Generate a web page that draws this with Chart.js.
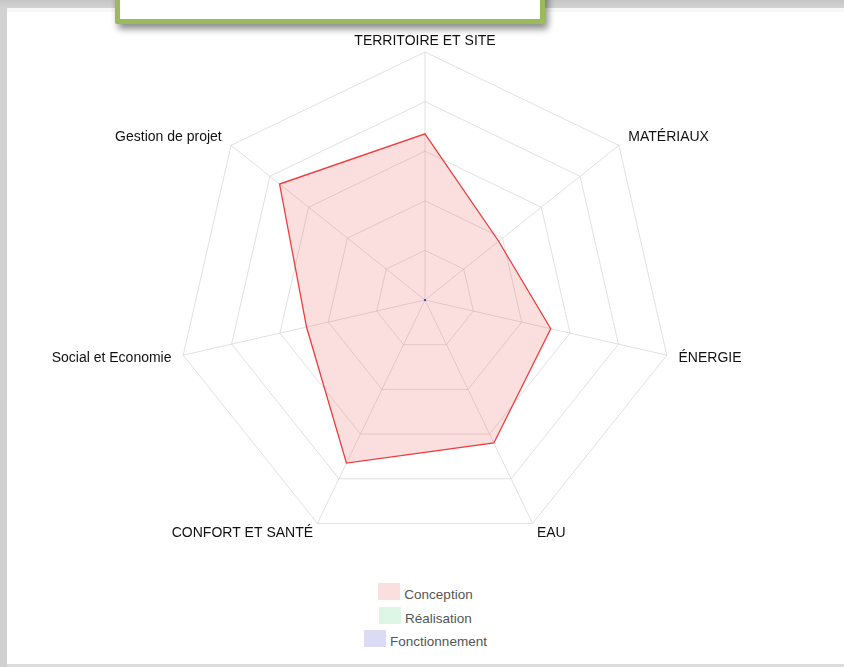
<!DOCTYPE html>
<html>
<head>
<meta charset="utf-8">
<script src="https://cdn.jsdelivr.net/npm/chart.js@4/dist/chart.umd.min.js"></script>
<style>
  html, body { margin: 0; padding: 0; }
  body {
    width: 844px; height: 667px; overflow: hidden; position: relative;
    background: linear-gradient(#c6c6c6, #d2d2d2 8px, #d0d0d0);
    font-family: "Liberation Sans", Arial, sans-serif;
  }
  #panel {
    position: absolute; left: 7px; top: 8px; right: 0; bottom: 3px;
    background: #fff; border-top: 4px solid #f7f7f7;
  }
  #bottomline { position: absolute; left: 7px; right: 0; bottom: 0; height: 3px; background: #dcdcdc; }
  #topbox {
    position: absolute; left: 115px; top: -20px; width: 420px; height: 34px;
    background: #fff; border: 5px solid #9bbb59; border-radius: 2px;
    box-shadow: 3px 5px 7px rgba(0,0,0,0.45);
    z-index: 2;
  }
  #wrap { position: absolute; left: 7px; top: 20px; width: 837px; height: 550px; }
  #legend { position: absolute; left: 7px; width: 837px; top: 583px; text-align: center; }
  .item { height: 23.5px; line-height: 23.5px; font-size: 13.5px; color: #555; }
  .item span.box { display: inline-block; width: 22px; height: 17px; vertical-align: top; margin-right: 4px; }
</style>
</head>
<body>
<div id="panel"></div>
<div id="bottomline"></div>
<div id="topbox"></div>
<div id="wrap"><canvas id="chart"></canvas></div>
<div id="legend"></div>
<script>
const categories = ['TERRITOIRE ET SITE', 'MATÉRIAUX', 'ÉNERGIE', 'EAU', 'CONFORT ET SANTÉ', 'Social et Economie', 'Gestion de projet'];
const seriesNames = ['Conception', 'Réalisation', 'Fonctionnement'];
const conception = [67, 38, 52, 64, 73, 49, 75];
const realisation = [0, 0, 0, 0, 0, 0, 0];
const fonctionnement = [0, 0, 0, 0, 0, 0, 0];
const fills = ['rgba(232,70,70,0.18)', 'rgba(70,210,110,0.18)', 'rgba(90,90,210,0.22)'];
const lines = ['rgba(238,60,60,1)', 'rgba(70,190,100,1)', 'rgba(70,70,200,1)'];
// label spacing per axis, same order as categories
const labelPad = [10, 12, 12, 10, 10, 12, 12];

const seriesValues = [conception, realisation, fonctionnement];

new Chart(document.getElementById('chart'), {
  type: 'radar',
  data: {
    labels: categories,
    datasets: seriesValues.map((vals, i) => ({
      label: seriesNames[i],
      data: vals,
      backgroundColor: fills[i],
      borderColor: lines[i],
      borderWidth: i === 0 ? 1.3 : 1,
      pointRadius: i === 2 ? 1 : 0,
      pointBackgroundColor: lines[i],
      pointBorderWidth: 0,
      fill: true
    })).reverse()
  },
  options: {
    responsive: true,
    maintainAspectRatio: false,
    animation: false,
    layout: { padding: { top: 16, bottom: 16 } },
    plugins: { legend: { display: false }, tooltip: { enabled: false } },
    scales: {
      r: {
        min: 0,
        max: 100,
        ticks: { display: false, stepSize: 20 },
        grid: { color: 'rgba(200,200,200,0.55)', lineWidth: 1 },
        angleLines: { color: 'rgba(200,200,200,0.55)', lineWidth: 1 },
        pointLabels: {
          color: '#111',
          padding: (ctx) => labelPad[ctx.index],
          font: { family: '"Liberation Sans", Arial, sans-serif', size: 14, lineHeight: '1px' }
        }
      }
    }
  }
});

const legend = document.getElementById('legend');
seriesNames.forEach((name, i) => {
  const row = document.createElement('div');
  row.className = 'item';
  const box = document.createElement('span');
  box.className = 'box';
  box.style.background = fills[i];
  row.appendChild(box);
  row.appendChild(document.createTextNode(name));
  legend.appendChild(row);
});
</script>
</body>
</html>
